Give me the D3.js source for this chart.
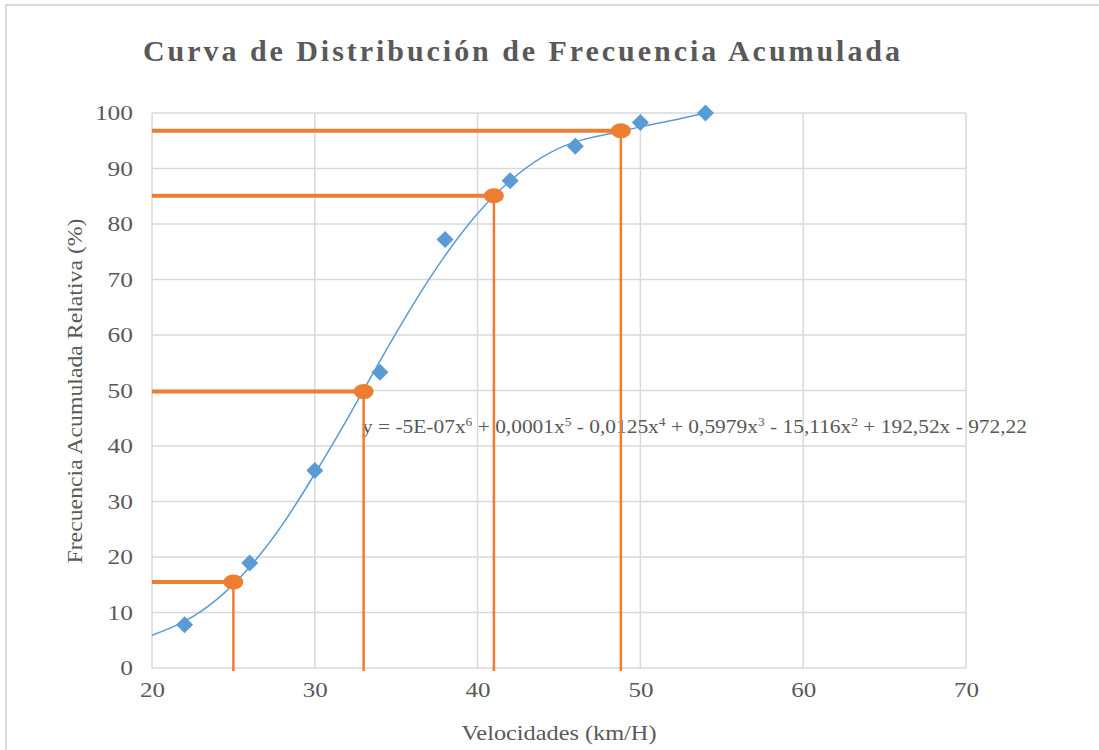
<!DOCTYPE html>
<html>
<head>
<meta charset="utf-8">
<script src="https://cdn.jsdelivr.net/npm/d3@7"></script>
<style>
  body { margin: 0; background: #fff; }
  text { font-family: "Liberation Serif", "Times New Roman", serif; fill: #595959; }
</style>
</head>
<body>
<div id="chart"></div>
<script>
// velocidades (marcas de clase) y frecuencia acumulada relativa
var velocidades = [22, 26, 30, 34, 38, 42, 46, 50, 54]
var frecAcum = [7.8, 18.9, 35.6, 53.3, 77.2, 87.8, 94.0, 98.3, 100]
// linea de tendencia polinomica
var trendX = [20, 22, 24, 26, 28, 30, 32, 34, 36, 38, 40, 42, 44, 46, 48, 50, 52, 54]
var trendY = [5.9, 8.4, 12.4, 18.2, 25.8, 35.0, 44.9, 55.3, 65.3, 74.3, 81.9, 87.8, 92.1, 94.8, 96.2, 97.5, 98.7, 100]
// percentiles
var percX = [25, 33, 41, 48.8]
var percY = [15.5, 49.8, 85.1, 96.8]
var xTicks = [20, 30, 40, 50, 60, 70]
var yTicks = [0, 10, 20, 30, 40, 50, 60, 70, 80, 90, 100]

var width = 1099, height = 750
var plotLeft = 152, plotRight = 966, plotTop = 113, plotBottom = 668

const svg = d3.select('#chart')
    .append('svg')
    .attr('width', width)
    .attr('height', height)

// marco del grafico
svg.append('rect')
    .attr('x', 6).attr('y', 5)
    .attr('width', 1200).attr('height', 900)
    .attr('fill', 'none')
    .attr('stroke', '#d9d9d9')
    .attr('stroke-width', 2)

var xScale = d3.scaleLinear().domain([20, 70]).range([plotLeft, plotRight])
var yScale = d3.scaleLinear().domain([0, 100]).range([plotBottom, plotTop])

// grid
svg.append('g')
    .selectAll('line')
    .data(xTicks)
    .enter()
    .append('line')
    .attr('x1', d => xScale(d)).attr('x2', d => xScale(d))
    .attr('y1', plotTop).attr('y2', plotBottom)
    .attr('stroke', '#d9d9d9')
    .attr('stroke-width', 1.5)
svg.append('g')
    .selectAll('line')
    .data(yTicks)
    .enter()
    .append('line')
    .attr('x1', plotLeft).attr('x2', plotRight)
    .attr('y1', d => yScale(d)).attr('y2', d => yScale(d))
    .attr('stroke', '#d9d9d9')
    .attr('stroke-width', 1.5)

// axes (solo etiquetas)
var yAxis = svg.append('g')
    .attr('transform', 'translate(' + plotLeft + ',0)')
    .call(d3.axisLeft(yScale).tickValues(yTicks).tickSize(0).tickPadding(19))
yAxis.select('.domain').remove()
yAxis.selectAll('text')
    .style('font-family', '"Liberation Serif", serif')
    .style('font-size', '21px')
    .attr('fill', '#595959')
    .attr('textLength', d => String(d).length * 12.7)
    .attr('lengthAdjust', 'spacingAndGlyphs')

var xAxis = svg.append('g')
    .attr('transform', 'translate(0,' + plotBottom + ')')
    .call(d3.axisBottom(xScale).tickValues(xTicks).tickSize(0).tickPadding(14))
xAxis.select('.domain').remove()
xAxis.selectAll('text')
    .style('font-family', '"Liberation Serif", serif')
    .style('font-size', '21px')
    .attr('fill', '#595959')
    .attr('textLength', d => String(d).length * 12.5)
    .attr('lengthAdjust', 'spacingAndGlyphs')

// titulos
svg.append('text')
    .attr('x', 143).attr('y', 61)
    .attr('textLength', 757)
    .attr('lengthAdjust', 'spacing')
    .style('font-size', '30px')
    .style('font-weight', 'bold')
    .text('Curva de Distribución de Frecuencia Acumulada')

svg.append('text')
    .attr('x', 559).attr('y', 740)
    .attr('text-anchor', 'middle')
    .attr('textLength', 195)
    .attr('lengthAdjust', 'spacingAndGlyphs')
    .style('font-size', '21px')
    .text('Velocidades (km/H)')

svg.append('text')
    .attr('transform', 'translate(82,391) rotate(-90)')
    .attr('text-anchor', 'middle')
    .attr('textLength', 345)
    .attr('lengthAdjust', 'spacingAndGlyphs')
    .style('font-size', '21px')
    .text('Frecuencia Acumulada Relativa (%)')

// ecuacion de la linea de tendencia
var eq = svg.append('text')
    .attr('x', 362).attr('y', 433)
    .attr('textLength', 665)
    .attr('lengthAdjust', 'spacingAndGlyphs')
    .style('font-size', '19px')
var eqParts = [['y = -5E-07x', '6'], [' + 0,0001x', '5'], [' - 0,0125x', '4'], [' + 0,5979x', '3'], [' - 15,116x', '2'], [' + 192,52x - 972,22', null]]
eqParts.forEach((p, i) => {
    eq.append('tspan').attr('dy', i > 0 ? 7 : 0).text(p[0])
    if (p[1]) {
        eq.append('tspan').attr('dy', -7).style('font-size', '12px').text(p[1])
    }
})

// tendencia
svg.append('path')
    .datum(trendX)
    .attr('d', d3.line()
        .x(d => xScale(d))
        .y((d, i) => yScale(trendY[i]))
        .curve(d3.curveNatural))
    .attr('fill', 'none')
    .attr('stroke', '#5b9bd5')
    .attr('stroke-width', 1.5)

// puntos (rombos)
svg.append('g')
    .selectAll('path')
    .data(velocidades)
    .enter()
    .append('path')
    .attr('d', d3.symbol().type(d3.symbolSquare).size(145))
    .attr('transform', (d, i) => 'translate(' + xScale(d) + ',' + yScale(frecAcum[i]) + ') rotate(45)')
    .attr('fill', '#5b9bd5')

// lineas de percentiles
var perc = svg.append('g')
perc.selectAll('.h')
    .data(percX)
    .enter()
    .append('line')
    .attr('x1', xScale(20)).attr('x2', d => xScale(d))
    .attr('y1', (d, i) => yScale(percY[i])).attr('y2', (d, i) => yScale(percY[i]))
    .attr('stroke', '#ed7d31')
    .attr('stroke-width', 4)
perc.selectAll('.v')
    .data(percX)
    .enter()
    .append('line')
    .attr('x1', d => xScale(d)).attr('x2', d => xScale(d))
    .attr('y1', (d, i) => yScale(percY[i])).attr('y2', plotBottom + 3)
    .attr('stroke', '#ed7d31')
    .attr('stroke-width', 2.5)
perc.selectAll('ellipse')
    .data(percX)
    .enter()
    .append('ellipse')
    .attr('cx', d => xScale(d))
    .attr('cy', (d, i) => yScale(percY[i]))
    .attr('rx', 10).attr('ry', 7.5)
    .attr('fill', '#ed7d31')
</script>
</body>
</html>
